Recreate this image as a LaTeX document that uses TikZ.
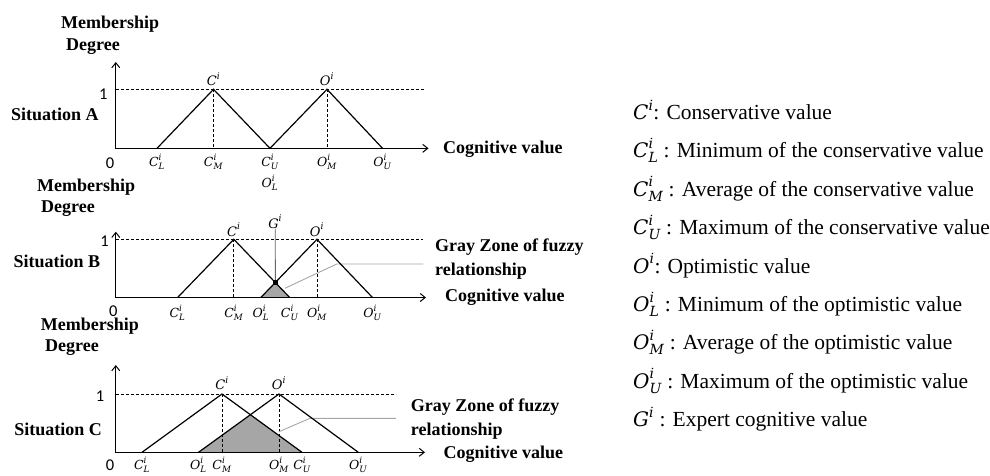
\documentclass[tikz,border=0pt]{standalone}
\usepackage{amsmath}
\usepackage{fontspec}
\setmainfont{Liberation Serif}
\newfontfamily\numfont{Carlito}
\newfontfamily\mfont{DejaVu Serif}
\newcommand\mv[1]{\text{\mfont\itshape #1}}
\newcommand\sym[3]{$\mv{#1}^{\mv{#2}}_{\mv{#3}}$}
\newcommand\symp[2]{$\mv{#1}^{\mv{#2}}$}
\usetikzlibrary{arrows.meta}
\begin{document}
\begin{tikzpicture}[x=1pt,y=-1pt,
  lbl/.style={font=\fontsize{18}{20}\selectfont\bfseries, inner sep=0pt, anchor=base west},
  mlbl/.style={font=\fontsize{12.5}{14}\selectfont, inner sep=0pt},
  pk/.style={font=\fontsize{13}{15}\selectfont, inner sep=0pt},
  num/.style={font=\fontsize{16.5}{18}\selectfont\numfont, inner sep=0pt},
  axis/.style={line width=1.1pt, {Straight Barb[length=5pt,width=8pt,line width=1pt]}-{Straight Barb[length=5pt,width=8pt,line width=1pt]}},
  tri/.style={line width=1.2pt, line join=miter},
  guide/.style={line width=0.8pt, dash pattern=on 3pt off 2pt},
  leader/.style={line width=0.9pt, draw=black!35},
  gline/.style={line width=0.9pt, draw=black!60},
  zone/.style={fill=black!35},
  dotbox/.style={fill=black, inner sep=0pt, minimum size=4.5pt},
  leg/.style={font=\fontsize{21.5}{24}\selectfont, inner sep=0pt, anchor=base west}
]
\useasboundingbox (0,0) rectangle (990,475);

% ================= Situation A =================
\coordinate (Ao) at (115.8,148.3);
\coordinate (Ay) at (115.8,62);
\coordinate (Ax) at (428.5,148.3);
\coordinate (ACL) at (157,148.3);
\coordinate (ACM) at (213.5,148.3);
\coordinate (ACU) at (270,148.3);
\coordinate (AOM) at (327,148.3);
\coordinate (AOU) at (382.5,148.3);
\coordinate (ACp) at (213.5,89.3);
\coordinate (AOp) at (327,89.3);
\coordinate (Ad1) at (115.8,89.3);
\coordinate (Ad2) at (424,89.3);
\draw[guide] (Ad1) -- (Ad2);
\draw[guide] (ACp) -- (ACM);
\draw[guide] (AOp) -- (AOM);
\draw[tri] (ACL) -- (ACp) -- (ACU) -- (AOp) -- (AOU);
\draw[axis] (Ay) -- (Ao) -- (Ax);
\node[lbl] (Amem) at (61,28) {Membership};
\node[lbl] (Adeg) at (66,50) {Degree};
\node[lbl] (Asit) at (10.8,120) {Situation A};
\node[lbl] (Acog) at (443,153) {Cognitive value};
\node[num] (A1) at (103.3,94) {1};
\node[num] (A0) at (110,162.7) {0};
\node[pk] (AClab) at (213.5,79) {\symp{C}{i}};
\node[pk] (AOlab) at (327,79) {\symp{O}{i}};
\node[mlbl] (AlCL) at (157,161.5) {\sym{C}{i}{L}};
\node[mlbl] (AlCM) at (213.5,161.5) {\sym{C}{i}{M}};
\node[mlbl] (AlCU) at (270,161.5) {\sym{C}{i}{U}};
\node[mlbl] (AlOM) at (327,161.5) {\sym{O}{i}{M}};
\node[mlbl] (AlOU) at (382.5,161.5) {\sym{O}{i}{U}};
\node[mlbl] (AlOL) at (270,183) {\sym{O}{i}{L}};

% ================= Situation B =================
\coordinate (Bo) at (115.8,297.5);
\coordinate (By) at (115.8,231.7);
\coordinate (Bx) at (426,297.5);
\coordinate (BCL) at (177.6,297.5);
\coordinate (BCM) at (233.8,297.5);
\coordinate (BCU) at (289.7,297.5);
\coordinate (BOL) at (260.8,297.5);
\coordinate (BOM) at (317,297.5);
\coordinate (BOU) at (372.5,297.5);
\coordinate (BCp) at (233.8,239.3);
\coordinate (BOp) at (317,239.3);
\coordinate (Bd1) at (115.8,239.3);
\coordinate (Bd2) at (423.3,239.3);
\coordinate (BX) at (intersection of BCp--BCU and BOL--BOp);
\fill[zone] (BOL) -- (BX) -- (BCU) -- cycle;
\draw[guide] (Bd1) -- (Bd2);
\draw[guide] (BCp) -- (BCM);
\draw[guide] (BOp) -- (BOM);
\coordinate (BL1) at (284.9,288.3);
\coordinate (BL2) at (336.7,264);
\coordinate (BL3) at (423.3,264);
\draw[leader] (BL1) -- (BL2) -- (BL3);
\draw[tri] (BCL) -- (BCp) -- (BCU);
\draw[tri] (BOL) -- (BOp) -- (BOU);
\draw[axis] (By) -- (Bo) -- (Bx);
\node[pk] (BGlab) at (275.25,221.7) {\symp{G}{i}};
\node[dotbox] (Bdot) at (BX) {};
\draw[gline] (BGlab.south) -- (Bdot.north);
\node[lbl] (Bmem) at (37,191) {Membership};
\node[lbl] (Bdeg) at (41,212) {Degree};
\node[lbl] (Bsit) at (13.5,267) {Situation B};
\node[lbl] (Bgz1) at (435,251.7) {Gray Zone of fuzzy};
\node[lbl] (Bgz2) at (435,275) {relationship};
\node[lbl] (Bcog) at (445,301) {Cognitive value};
\node[num] (B1) at (104.5,241) {1};
\node[num] (B0) at (113.3,310.7) {0};
\node[pk] (BClab) at (233.8,229.5) {\symp{C}{i}};
\node[pk] (BOlab) at (317,229.5) {\symp{O}{i}};
\node[mlbl] (BlCL) at (177.6,312.5) {\sym{C}{i}{L}};
\node[mlbl] (BlCM) at (233.8,312.5) {\sym{C}{i}{M}};
\node[mlbl] (BlOL) at (260.8,312.5) {\sym{O}{i}{L}};
\node[mlbl] (BlCU) at (289.7,312.5) {\sym{C}{i}{U}};
\node[mlbl] (BlOM) at (317,312.5) {\sym{O}{i}{M}};
\node[mlbl] (BlOU) at (372.5,312.5) {\sym{O}{i}{U}};

% ================= Situation C =================
\coordinate (Co) at (115.8,452.3);
\coordinate (Cy) at (115.8,365);
\coordinate (Cx) at (425,452.3);
\coordinate (CCL) at (142,452.3);
\coordinate (CCM) at (222,452.3);
\coordinate (CCU) at (302,452.3);
\coordinate (COL) at (198.5,452.3);
\coordinate (COM) at (279,452.3);
\coordinate (COU) at (358.3,452.3);
\coordinate (CCp) at (222,394);
\coordinate (COp) at (279,394);
\coordinate (Cd1) at (115.8,394);
\coordinate (Cd2) at (395.8,394);
\coordinate (CX) at (intersection of CCp--CCU and COL--COp);
\fill[zone] (COL) -- (CX) -- (CCU) -- cycle;
\draw[guide] (Cd1) -- (Cd2);
\draw[guide] (CCp) -- (CCM);
\draw[guide] (COp) -- (COM);
\coordinate (CL1) at (279,431.7);
\coordinate (CL2) at (310,418.3);
\coordinate (CL3) at (395.8,418.3);
\draw[leader] (CL1) -- (CL2) -- (CL3);
\draw[tri] (CCL) -- (CCp) -- (CCU);
\draw[tri] (COL) -- (COp) -- (COU);
\draw[axis] (Cy) -- (Co) -- (Cx);
\node[lbl] (Cmem) at (40.7,330) {Membership};
\node[lbl] (Cdeg) at (45,351.5) {Degree};
\node[lbl] (Csit) at (14.2,435) {Situation C};
\node[lbl] (Cgz1) at (410.7,411.7) {Gray Zone of fuzzy};
\node[lbl] (Cgz2) at (410.7,435) {relationship};
\node[lbl] (Ccog) at (443.3,458.3) {Cognitive value};
\node[num] (C1) at (100,396) {1};
\node[num] (C0) at (110,465) {0};
\node[pk] (CClab) at (222,383.3) {\symp{C}{i}};
\node[pk] (COlab) at (279,383.3) {\symp{O}{i}};
\node[mlbl] (ClCL) at (142,465) {\sym{C}{i}{L}};
\node[mlbl] (ClOL) at (198.5,465) {\sym{O}{i}{L}};
\node[mlbl] (ClCM) at (222,465) {\sym{C}{i}{M}};
\node[mlbl] (ClOM) at (279,465) {\sym{O}{i}{M}};
\node[mlbl] (ClCU) at (302,465) {\sym{C}{i}{U}};
\node[mlbl] (ClOU) at (358.3,465) {\sym{O}{i}{U}};

% ================= Legend =================
\newcommand\ls[1]{{\fontsize{20}{22}\selectfont #1}}
\node[leg] (L1) at (633,119.3) {\ls{\symp{C}{i}}: Conservative value};
\node[leg] (L2) at (633,157.7) {\ls{\sym{C}{i}{L}} : Minimum of the conservative value};
\node[leg] (L3) at (633,196.1) {\ls{\sym{C}{i}{M}} : Average of the conservative value};
\node[leg] (L4) at (633,234.6) {\ls{\sym{C}{i}{U}} : Maximum of the conservative value};
\node[leg] (L5) at (633,273) {\ls{\symp{O}{i}}: Optimistic value};
\node[leg] (L6) at (633,311.4) {\ls{\sym{O}{i}{L}} : Minimum of the optimistic value};
\node[leg] (L7) at (633,349.8) {\ls{\sym{O}{i}{M}} : Average of the optimistic value};
\node[leg] (L8) at (633,388.2) {\ls{\sym{O}{i}{U}} : Maximum of the optimistic value};
\node[leg] (L9) at (633,426.7) {\ls{\symp{G}{i}} : Expert cognitive value};
\end{tikzpicture}
\end{document}
